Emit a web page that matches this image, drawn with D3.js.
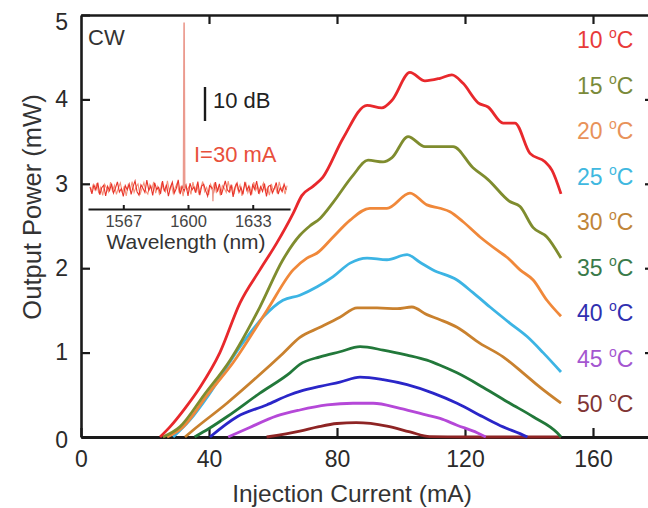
<!DOCTYPE html>
<html><head><meta charset="utf-8">
<script src="https://cdn.jsdelivr.net/npm/d3@7"></script>
<style>body{margin:0;background:#fff}svg{display:block}text{font-family:"Liberation Sans",Arial,sans-serif}</style>
</head><body><svg id="c" width="648" height="508"></svg>
<script>
// ---- data ----
const temps = ["10","15","20","25","30","35","40","45","50"];
const curveColors = ["#e8282c","#7f8c2e","#f0883a","#3cb4e4","#c9812e","#22783a","#2a26c8","#b548d8","#8e2424"];
const labelColors = ["#e83a3a","#7a8a3a","#e8925a","#40b8e0","#c08438","#3a7a4a","#3030b0","#a456d0","#803434"];
const T10 = [[24.7,0],[27.8,0.12],[32.5,0.34],[37.2,0.59],[43.4,1.0],[49.7,1.59],[55.9,1.98],[61.2,2.30],[66.3,2.65],[69,2.86],[72.5,2.97],[75.6,3.08],[81.9,3.54],[89.4,3.93],[94,3.90],[97.2,3.99],[102.8,4.32],[107.5,4.22],[112.2,4.25],[115.9,4.29],[119.4,4.19],[124.1,3.96],[127.2,3.91],[131.9,3.72],[135.6,3.72],[140.3,3.36],[145,3.26],[147.2,3.16],[150,2.88]];
const T15 = [[25.6,0],[30.9,0.12],[38.5,0.5],[46.6,0.91],[55.9,1.54],[63.1,2.10],[68.4,2.39],[71.5,2.50],[74.7,2.59],[78.8,2.78],[85,3.10],[89.7,3.28],[94.4,3.26],[97.2,3.31],[102.2,3.56],[107.5,3.44],[112.2,3.44],[116.3,3.44],[122.5,3.19],[127.2,3.05],[134,2.79],[137.2,2.73],[141.3,2.48],[145.6,2.37],[150,2.12]];
const T20 = [[26.9,0],[31.9,0.12],[39.5,0.5],[47.5,0.88],[58.1,1.50],[66.3,1.98],[70.6,2.12],[73.8,2.18],[78.8,2.37],[84.1,2.57],[90.3,2.71],[95.6,2.71],[102.8,2.89],[108.1,2.75],[112.2,2.71],[115.3,2.67],[119.4,2.55],[124.7,2.37],[130.9,2.19],[133.1,2.13],[137.2,1.98],[141.3,1.86],[145.6,1.62],[150,1.43]];
const T25 = [[28.8,0],[34,0.2],[40.3,0.52],[49.7,1.07],[56.9,1.42],[63.1,1.62],[68.4,1.68],[73.8,1.78],[78.8,1.90],[84.1,2.06],[89.4,2.12],[95.6,2.10],[101.9,2.16],[105.9,2.07],[110,1.98],[117.5,1.86],[122.5,1.71],[127.8,1.54],[134,1.35],[139.4,1.19],[144.4,1.00],[150,0.77]];
const T30 = [[32.5,0],[35,0.08],[45.6,0.4],[55,0.71],[63.1,0.99],[68.4,1.18],[74.7,1.30],[80.9,1.42],[86.3,1.53],[92.5,1.53],[98.8,1.52],[103.4,1.54],[108.1,1.45],[112.2,1.39],[117.5,1.30],[124.7,1.11],[131.9,0.95],[138.1,0.76],[143.4,0.59],[150,0.40]];
const T35 = [[35.5,0],[40,0.1],[45.6,0.24],[55.9,0.52],[65.3,0.76],[68.4,0.86],[74.7,0.95],[80.9,1.01],[87.2,1.07],[94.4,1.03],[101.9,0.97],[108.1,0.91],[112.2,0.85],[117.5,0.76],[125.6,0.59],[134,0.40],[141.3,0.24],[148.8,0.05],[150,0]];
const T40 = [[40.3,0],[48.8,0.24],[58,0.38],[65.3,0.5],[68.4,0.54],[74.7,0.6],[80.9,0.65],[87.2,0.71],[94.4,0.68],[101.9,0.62],[110,0.52],[117.5,0.40],[125.6,0.24],[131.9,0.12],[137.2,0.04],[139.5,0]];
const T45 = [[46,0],[52,0.1],[61.2,0.25],[68.4,0.32],[76.9,0.38],[85,0.40],[91.3,0.40],[99.7,0.34],[108.1,0.26],[112.2,0.22],[117.5,0.14],[123.8,0.05],[126.5,0]];
const T50 = [[58,0],[68.4,0.07],[74,0.12],[80,0.16],[86,0.17],[95.6,0.13],[102.8,0.06],[109,0.005],[120,0],[150,0]];
const series = [T10,T15,T20,T25,T30,T35,T40,T45,T50];
const xTicks = [0,40,80,120,160];
const yTicks = [0,1,2,3,4,5];
// inset spectrum (relative dB), 1 nm steps
const wlStart = 1550;
const noiseRed = [0.6,-1.4,1.2,-0.3,1.9,-1.7,0.4,1.1,-2.0,0.8,
 -0.5,1.6,-1.2,0.3,2.1,-0.9,0.1,-2.2,1.0,-0.2,
 1.5,-1.6,0.7,2.4,-0.8,-1.8,1.2,0.2,-1.0,2.6,
 -0.4,0.9,-1.9,1.8,-0.1,0.5,-1.4,2.3,-0.7,1.3,
 -2.1,0.4,2.0,-1.2,0.1,2.7,-1.5,0.8,-0.6,1.1,
 -2.0,1.7,-0.3,0.6,-1.1,2.2,-1.8,0.9,1.4,-0.5,
 -2.1,1.0,0.4,-1.3,2.0,-0.8,1.5,-1.7,0.3,2.4,
 -0.2,-0.9,1.3,-2.3,0.6,1.8,-1.0,0.5,-1.6,2.1,
 -0.4,0.9,-1.9,1.2,-0.1,2.3,-1.4,0.7,-0.7,1.6,
 -2.2,0.8,1.1,-1.2,0.2,1.9,-1.5,0.4,-0.8,1.4,-0.3];
const noiseOrange = [-0.8,1.0,-0.2,1.7,-1.3,0.5,-1.9,1.4,0.2,-0.9,
 2.0,-0.6,1.1,-1.6,0.3,1.8,-1.1,0.8,-2.0,1.2,
 -0.4,2.2,-1.0,0.6,1.5,-1.7,0.1,1.9,-0.7,-1.5,
 1.3,-0.2,2.1,-1.2,0.7,-1.8,1.6,0.0,-0.9,2.4,
 -0.6,1.2,-1.4,0.4,1.8,-1.1,0.9,-2.1,1.5,-0.3,
 0.7,-1.6,2.0,-0.5,1.1,-1.3,0.3,2.2,-0.8,0.5,
 -1.7,1.4,-0.1,1.9,-1.2,0.6,-1.9,1.0,0.2,-1.0,
 2.3,-0.7,0.8,-1.5,1.6,-0.3,1.2,-2.0,0.4,1.7,
 -1.1,0.6,-1.6,2.0,-0.4,1.1,-1.2,0.5,1.8,-0.9,
 0.3,-1.8,1.5,-0.6,0.9,-1.3,2.1,-0.2,0.7,-1.5,1.0];
const peak = [[1597.7,0],[1598,49],[1598.3,0]];
const dip = [[1612.5,0],[1612.7,-3.6],[1612.9,0]];
const insetTicks = [1567,1600,1633];

// ---- drawing ----
const svg = d3.select("#c");
svg.append("rect").attr("width",648).attr("height",508).attr("fill","#fff");
const x = d3.scaleLinear([0,180],[81,657]);
const y = d3.scaleLinear([0,5],[437,15]);
const F = 23;
const fmt = d3.format("d");

// axes
const gB = svg.append("g").attr("transform",`translate(0,${y(0)})`)
  .call(d3.axisBottom(x).tickValues(xTicks).tickFormat(fmt).tickSizeInner(-9).tickSizeOuter(0).tickPadding(13.5));
const gL = svg.append("g").attr("transform",`translate(${x(0)},0)`)
  .call(d3.axisLeft(y).tickValues(yTicks).tickFormat(fmt).tickSizeInner(-9).tickSizeOuter(0).tickPadding(13));
const gT = svg.append("g").attr("transform",`translate(0,${y(5)})`)
  .call(d3.axisTop(x).tickValues(xTicks.slice(1)).tickSizeInner(-9).tickSizeOuter(0).tickFormat(""));
const gR = svg.append("g").attr("transform",`translate(${x(180)},0)`)
  .call(d3.axisRight(y).tickValues(yTicks.slice(1,5)).tickSizeInner(-12).tickSizeOuter(0).tickFormat(""));
[gB,gL,gT,gR].forEach(g=>{
  g.select(".domain").attr("stroke","#1a1a1a").attr("stroke-width",2.6);
  g.selectAll(".tick line").attr("stroke","#1a1a1a").attr("stroke-width",2.2);
  g.selectAll(".tick text").attr("font-size",F).attr("fill","#2a2a2a").attr("font-family","Liberation Sans, Arial, sans-serif");
});
gB.select(".domain").attr("stroke-width",3.2);
gL.selectAll(".tick text").filter(d=>d===5).attr("dy","0.62em");
gL.selectAll(".tick text").filter(d=>d===0).attr("dy","0.45em");

// curves
const line = d3.line().x(d=>x(d[0])).y(d=>y(d[1])).curve(d3.curveMonotoneX);
series.slice().reverse().forEach((s,k)=>{
  const i = series.length-1-k;
  svg.append("path").datum(s).attr("d",line).attr("fill","none")
    .attr("stroke",curveColors[i]).attr("stroke-width",2.8).attr("stroke-linejoin","round");
});

// axis titles
svg.append("text").attr("x",352).attr("y",502).attr("text-anchor","middle")
  .attr("font-size",24.5).attr("fill","#333").text("Injection Current (mA)");
svg.append("text").attr("transform","translate(41,207) rotate(-90)").attr("text-anchor","middle")
  .attr("font-size",25.5).attr("fill","#333").text("Output Power (mW)");

// legend
temps.forEach((t,i)=>{
  const tx = svg.append("text").attr("x",577).attr("y",48+i*45.5).attr("font-size",F).attr("fill",labelColors[i]);
  tx.append("tspan").text(t+" ");
  tx.append("tspan").attr("font-size",14).attr("dy",-10).text("o");
  tx.append("tspan").attr("dy",10).text("C");
});

// inset
const xi = d3.scaleLinear([1549,1652],[88,290]);
const yi = d3.scaleLinear([-6,50],[209.4,19]);
const li = d3.line().x(d=>xi(d[0])).y(d=>yi(d[1]));
svg.append("path").datum(noiseOrange.map((v,i)=>[wlStart+0.5+i,v])).attr("d",li)
  .attr("fill","none").attr("stroke","#f4866a").attr("stroke-width",1.1).attr("opacity",0.9);
svg.append("path").datum(noiseRed.map((v,i)=>[wlStart+i,v])).attr("d",li)
  .attr("fill","none").attr("stroke","#e8332a").attr("stroke-width",1.1);
svg.append("path").datum(peak).attr("d",li).attr("fill","none").attr("stroke","#eb9a8e").attr("stroke-width",1.6);
svg.append("path").datum(dip).attr("d",li).attr("fill","none").attr("stroke","#eb9a8e").attr("stroke-width",1.4);
const gI = svg.append("g").attr("transform","translate(0,209)")
  .call(d3.axisBottom(xi).tickValues(insetTicks).tickFormat(fmt).tickSizeInner(-4).tickSizeOuter(0).tickPadding(6));
gI.select(".domain").attr("stroke","#1a1a1a").attr("stroke-width",2.2);
gI.selectAll(".tick line").attr("stroke","#1a1a1a").attr("stroke-width",2);
gI.selectAll(".tick text").attr("font-size",16.5).attr("fill","#444").attr("font-family","Liberation Sans, Arial, sans-serif");
svg.append("text").attr("x",186).attr("y",249).attr("text-anchor","middle").attr("font-size",21).attr("fill","#333").text("Wavelength (nm)");
svg.append("text").attr("x",88).attr("y",45).attr("font-size",22).attr("fill","#333").text("CW");
// 10 dB scale bar: length = 10 dB on inset scale
svg.append("line").attr("x1",205).attr("x2",205).attr("y1",yi(30)).attr("y2",yi(20)).attr("stroke","#1a1a1a").attr("stroke-width",2.4);
svg.append("text").attr("x",213).attr("y",108).attr("font-size",22).attr("fill","#222").text("10 dB");
svg.append("text").attr("x",194).attr("y",162).attr("font-size",22).attr("fill","#e8503c").text("I=30 mA");
</script></body></html>
